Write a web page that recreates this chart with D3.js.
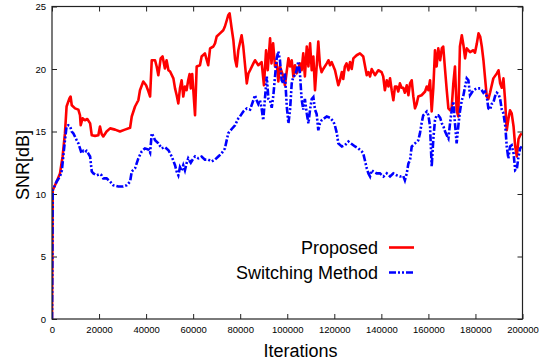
<!DOCTYPE html>
<html>
<head>
<meta charset="utf-8">
<script src="https://cdn.jsdelivr.net/npm/d3@7"></script>
<style>
  html, body { margin: 0; padding: 0; background: #fff; }
  svg { display: block; font-family: "Liberation Sans", Arial, Helvetica, sans-serif; }
</style>
</head>
<body>
<svg id="chart" width="549" height="362"></svg>
<script>
// ---- data ----
const xTicks = [0, 20000, 40000, 60000, 80000, 100000, 120000, 140000, 160000, 180000, 200000];
const yTicks = [0, 5, 10, 15, 20, 25];
const seriesNames = ["Proposed", "Switching Method"];

const proposedIter = [0,300,2000,3400,4500,5500,6200,7400,7900,8400,9800,11200,11900,12200,13000,14000,15000,16200,16900,18300,19700,20400,21100,21800,23200,24700,26800,28900,31000,33200,33900,35300,36700,37400,38800,40000,41000,41700,42400,43800,44500,45200,46200,47000,48000,48700,49500,50200,51600,52300,53000,53700,54400,55100,55800,56500,57200,57900,58500,59000,59600,60800,61500,62900,63600,65000,66400,67200,68600,69300,70000,71400,72800,73500,74300,74900,75500,76400,77100,77800,78500,79200,80600,81300,82800,83500,84200,85600,86300,87700,89100,90100,91000,91700,92700,93300,94000,94800,95500,96200,96900,98300,99000,100500,101200,101900,102600,103300,104000,105400,106100,106800,107500,108300,109000,109700,110400,111100,111800,112500,113200,113900,114600,115300,116800,117500,118200,118900,120300,121700,122400,123200,123800,124500,125200,126000,126700,127400,128100,129500,130900,132300,133000,133800,134500,135200,135900,136600,137300,138700,140100,140800,141500,142300,143000,143700,144400,145100,145800,146500,147200,147900,148600,149300,150000,150800,151500,152200,152900,153600,154300,155000,155700,157100,158600,159300,160000,160700,161400,162100,162800,163500,164200,165000,165700,166300,167100,167800,168500,169200,169900,170600,171300,172000,172700,173400,174200,174900,175600,176300,177700,179100,179800,180600,181300,182000,182700,183400,184100,184800,185500,186200,187600,189100,189800,190500,191200,191900,192600,193300,194000,194700,195400,196200,196900,197600,198300,199000,199700];
const proposedSNR = [0,10.3,11.0,11.65,13.0,14.85,17.0,17.65,17.8,17.1,16.85,16.75,16.3,15.5,16.05,15.9,16.0,15.65,14.7,14.65,14.7,15.4,14.8,14.6,15.0,15.25,15.15,15.0,15.15,15.3,16.2,17.0,17.5,18.3,19.0,18.7,18.2,17.8,20.7,20.7,20.2,19.5,20.85,21.0,20.05,20.7,19.9,19.8,19.25,18.45,17.9,17.25,18.45,19.1,17.8,18.6,18.3,19.1,19.6,18.45,19.6,16.3,20.2,20.3,21.0,21.25,20.3,21.65,21.8,22.05,22.6,22.85,23.1,23.4,23.9,24.3,24.45,23.2,22.3,20.8,20.2,21.5,22.7,21.8,18.85,19.65,19.9,20.45,20.7,20.3,20.55,18.7,21.5,19.9,22.45,20.45,22.05,20.2,20.5,19.0,20.2,19.4,18.7,20.85,20.2,20.7,19.4,20.3,19.65,20.45,19.9,21.25,19.4,21.8,20.2,22.05,19.9,21.0,18.3,20.2,22.2,20.3,19.75,20.0,20.45,20.7,20.3,20.55,19.9,18.7,19.1,19.75,19.2,20.2,20.45,19.9,20.55,20.0,20.85,21.1,21.25,21.0,20.3,19.5,19.75,19.4,20.0,19.75,19.5,19.9,19.75,19.4,18.3,19.1,18.6,19.25,18.3,17.5,18.6,18.6,18.2,18.85,18.5,18.5,18.1,18.7,17.9,18.85,19.1,17.8,16.85,17.2,17.8,17.9,18.2,18.6,18.3,19.1,16.6,18.5,21.5,20.2,21.65,20.7,21.65,21.8,19.9,18.3,16.85,16.7,16.9,18.85,20.2,16.7,16.2,21.8,22.7,21.9,20.85,21.65,21.35,21.5,21.3,22.05,22.85,22.6,21.8,20.7,19.25,17.8,17.6,18.1,19.25,19.65,19.9,18.85,18.5,19.25,17.5,15.1,16.0,16.7,16.45,15.4,13.8,13.0,14.4,14.7,14.85];

const switchingIter = [0,300,2000,3400,4200,4800,5500,6200,6900,7700,8400,9100,10500,11200,11900,12600,13300,14000,14700,15400,16200,16900,17600,19000,20400,21100,21800,23200,24700,26100,28200,30300,31800,33200,33900,35300,36700,38100,39500,41000,41700,42400,43100,43800,45200,46600,48000,49500,50900,52300,53000,53700,54400,55100,55800,56500,57200,57900,59000,60100,60800,62200,63600,65000,66400,67900,69300,70700,72100,73500,74900,76400,77800,79200,79900,81300,82800,84200,85600,86300,87000,87700,88400,89100,89800,90500,91300,92000,92700,93400,94100,94800,95500,96200,96900,97600,98300,99000,99800,100500,101200,101900,102600,103300,104000,104700,105400,106100,106800,107500,108300,109000,109700,110400,111100,111800,112500,113200,113900,114600,115300,116800,118200,119600,120300,121100,121700,123200,124500,126000,127400,128800,130200,131700,132300,133000,133800,134500,135200,135900,136600,138000,139400,140900,142300,143700,145100,146500,147900,149300,150000,150800,151500,152200,152900,154300,155700,156400,157100,157800,159300,160000,160700,161400,162100,162800,163500,164200,165000,165700,166400,167100,167800,168500,169200,169900,170600,171300,172000,172700,173400,174200,174900,175600,176300,177000,177700,178400,179100,180600,182000,182700,183400,184100,184800,185500,186200,186900,187600,188300,189100,189800,190500,191200,191900,192700,193300,194000,194700,195400,196200,196900,197600,198300,199000,199700];
const switchingSNR = [0,10.3,11.0,11.4,11.9,13.0,14.3,15.4,15.5,15.4,15.0,14.85,14.3,14.05,13.65,13.25,13.45,13.35,13.45,13.25,13.0,11.8,11.65,11.5,11.6,11.5,11.25,11.25,11.0,10.7,10.6,10.6,10.7,11.0,11.8,12.05,12.85,13.4,13.65,13.55,13.3,14.85,14.6,14.3,14.05,13.65,13.75,13.5,13.0,12.3,11.8,11.5,12.15,11.9,12.3,11.9,12.45,12.85,12.5,12.85,13.0,12.85,13.0,12.75,12.75,12.6,12.75,13.0,13.25,13.65,14.85,15.2,15.5,16.05,16.2,16.6,16.85,16.75,17.5,17.9,17.5,17.2,17.5,16.85,15.9,17.6,19.4,17.6,17.5,16.9,17.9,19.4,20.85,21.4,20.7,19.1,18.85,19.65,17.0,15.65,16.75,18.85,19.4,19.5,19.9,20.6,19.65,17.6,16.75,17.6,16.45,15.65,16.75,17.6,17.75,16.75,16.4,15.1,15.65,15.9,16.0,16.2,16.1,15.8,15.45,14.85,14.05,13.8,13.9,14.2,14.0,13.8,13.65,13.4,13.25,12.7,12.05,11.65,11.4,11.9,11.8,11.65,11.65,11.4,11.65,11.4,11.65,11.5,11.4,11.45,11.1,11.65,12.45,12.7,13.8,14.05,14.3,14.85,15.65,16.3,16.6,16.3,15.4,12.2,14.4,15.9,16.3,16.3,16.1,15.65,15.4,15.0,14.7,14.45,15.65,16.7,17.4,15.65,14.05,15.4,16.6,17.5,17.9,18.6,19.25,19.1,17.9,18.1,18.3,18.45,18.45,18.3,18.1,18.2,17.8,16.85,16.75,17.2,17.3,17.8,18.1,18.0,17.6,16.75,16.45,15.4,13.8,12.85,13.8,13.9,13.25,11.9,12.0,13.0,13.65,13.8];

// ---- layout ----
const W = 549, H = 362;
const margin = { left: 52, top: 6.5, right: 26.5, bottom: 43 };
const iw = W - margin.left - margin.right;
const ih = H - margin.top - margin.bottom;

const svg = d3.select("#chart");
const g = svg.append("g").attr("transform", `translate(${margin.left},${margin.top})`);

const x = d3.scaleLinear().domain([0, 200000]).range([0, iw]);
const y = d3.scaleLinear().domain([0, 25]).range([ih, 0]);

// clip
svg.append("defs").append("clipPath").attr("id", "clip")
  .append("rect").attr("x", 0).attr("y", 0).attr("width", iw).attr("height", ih);

// axes
const axColor = "#222";
const fmt = d3.format("d");
const xb = g.append("g").attr("transform", `translate(0,${ih})`)
  .call(d3.axisBottom(x).tickValues(xTicks).tickSize(-5).tickPadding(7).tickFormat(fmt));
const xt = g.append("g")
  .call(d3.axisTop(x).tickValues(xTicks).tickSize(-5).tickFormat(""));
const yl = g.append("g")
  .call(d3.axisLeft(y).tickValues(yTicks).tickSize(-5).tickPadding(6).tickFormat(fmt));
const yr = g.append("g").attr("transform", `translate(${iw},0)`)
  .call(d3.axisRight(y).tickValues(yTicks).tickSize(-5).tickFormat(""));
[xb, xt, yl, yr].forEach(a => {
  a.select(".domain").remove();
  a.selectAll(".tick line").attr("stroke", axColor).attr("stroke-width", 1);
  a.selectAll(".tick text").attr("fill", "#000").style("font-size", "9.5px")
    .style("font-family", "'Liberation Sans', Arial, sans-serif");
});

// lines
const line = d3.line().x(d => x(d[0])).y(d => y(d[1]));
const propData = proposedIter.map((v, i) => [v, proposedSNR[i]]);
const swData = switchingIter.map((v, i) => [v, switchingSNR[i]]);

const plot = g.append("g").attr("clip-path", "url(#clip)");
plot.append("path").datum(propData).attr("d", line)
  .attr("fill", "none").attr("stroke", "#ff0000").attr("stroke-width", 2.6)
  .attr("stroke-linejoin", "round");
plot.append("path").datum(swData).attr("d", line)
  .attr("fill", "none").attr("stroke", "#0000ff").attr("stroke-width", 2.6)
  .attr("stroke-dasharray", "7,2,2,2,2,2");

// frame
g.append("rect").attr("x", 0).attr("y", 0).attr("width", iw).attr("height", ih)
  .attr("fill", "none").attr("stroke", axColor).attr("stroke-width", 1.2);

// axis titles
svg.append("text").attr("x", 300.5).attr("y", 357).attr("text-anchor", "middle")
  .style("font-size", "18px").attr("fill", "#000").text("Iterations");
svg.append("text").attr("transform", "translate(29,165) rotate(-90)").attr("text-anchor", "middle")
  .style("font-size", "18px").attr("fill", "#000").text("SNR[dB]");

// legend
const legend = svg.append("g");
const legStyles = [
  { color: "#ff0000", dash: null },
  { color: "#0000ff", dash: "7,2,2,2,2,2" }
];
seriesNames.forEach((name, i) => {
  const ly = 247.5 + i * 25;
  legend.append("text").attr("x", 378).attr("y", ly + 6.5).attr("text-anchor", "end")
    .style("font-size", "18px").attr("fill", "#000").text(name);
  const l = legend.append("line").attr("x1", 389).attr("x2", 414).attr("y1", ly).attr("y2", ly)
    .attr("stroke", legStyles[i].color).attr("stroke-width", 2.6);
  if (legStyles[i].dash) l.attr("stroke-dasharray", legStyles[i].dash);
});
</script>
</body>
</html>
